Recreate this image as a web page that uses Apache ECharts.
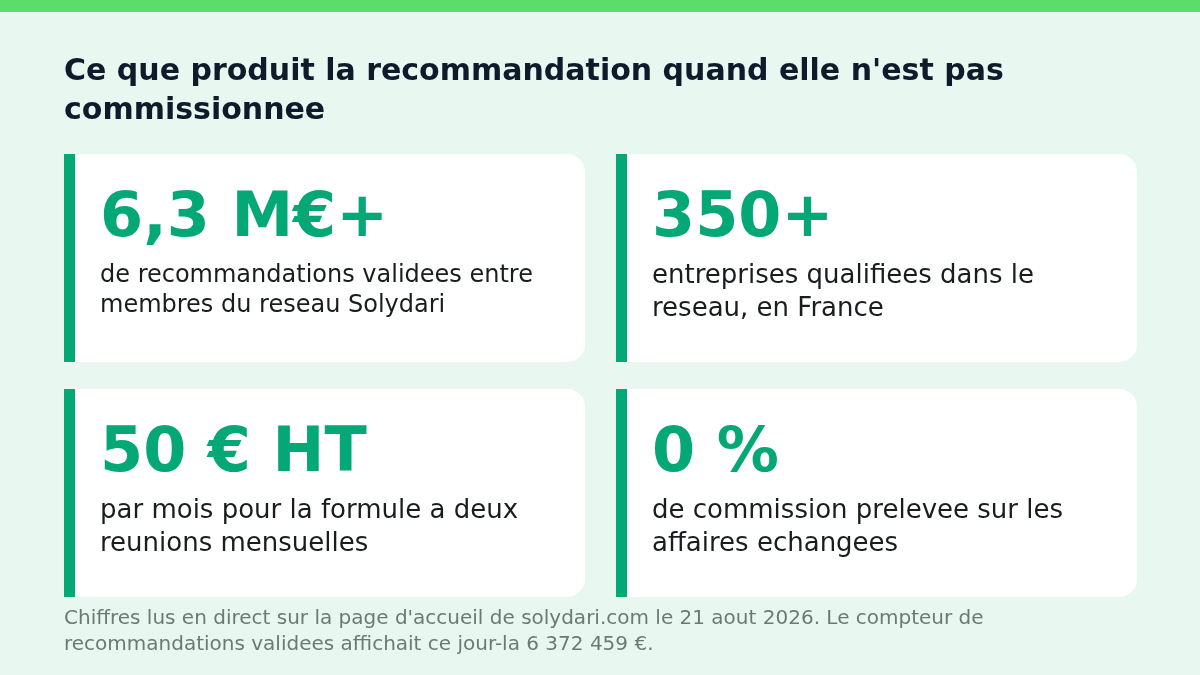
<!DOCTYPE html>
<html>
<head>
<meta charset="utf-8">
<title>Solydari - recommandation</title>
<script src="https://cdn.jsdelivr.net/npm/echarts@6/dist/echarts.min.js"></script>
<style>
    html, body { margin: 0; padding: 0; background: #E8F8F1; }
    #chart { width: 1200px; height: 675px; }
</style>
</head>
<body>
<div id="chart"></div>
<script>
var titleLines = ["Ce que produit la recommandation quand elle n'est pas", "commissionnee"]
var kpiValues = ["6,3 M€+", "350+", "50 € HT", "0 %"]
var kpiLabels = [
    ["de recommandations validees entre", "membres du reseau Solydari"],
    ["entreprises qualifiees dans le", "reseau, en France"],
    ["par mois pour la formule a deux", "reunions mensuelles"],
    ["de commission prelevee sur les", "affaires echangees"]
]
var noteLines = [
    "Chiffres lus en direct sur la page d'accueil de solydari.com le 21 aout 2026. Le compteur de",
    "recommandations validees affichait ce jour-la 6 372 459 €."
]

var FONT = "DejaVu Sans"
var green = "#04A877"

// shrink the label until its longest line fits the card
var measureCtx = document.createElement("canvas").getContext("2d")
function fitSize(lines, maxW, start) {
    var size = start
    while (size > 12) {
        measureCtx.font = size + "px '" + FONT + "'"
        var w = Math.max.apply(null, lines.map(function (l) { return measureCtx.measureText(l).width }))
        if (w <= maxW) break
        size--
    }
    return size
}

var chart = echarts.init(document.getElementById("chart"))

var cardW = 521, cardH = 208
var cardX = [64, 616], cardY = [154, 389]

var elements = [
    { type: "rect", shape: { x: 0, y: 0, width: 1200, height: 675 }, style: { fill: "#E8F8F1" } },
    { type: "rect", shape: { x: 0, y: 0, width: 1200, height: 12 }, style: { fill: "#5ADD6B" } },
    {
        type: "text", x: 64, y: 53,
        style: {
            text: titleLines.join("\n"), fill: "#0F1B2B",
            font: "bold 30px '" + FONT + "'", lineHeight: 39,
            verticalAlign: "top"
        }
    }
]

kpiValues.forEach(function (val, i) {
    var x = cardX[i % 2], y = cardY[Math.floor(i / 2)]
    var size = fitSize(kpiLabels[i], 449, 26)
    var lh = Math.round(size * 1.25)
    elements.push(
        { type: "rect", shape: { x: x, y: y, width: cardW, height: cardH, r: [0, 18, 18, 0] }, style: { fill: "#FFFFFF" } },
        { type: "rect", shape: { x: x, y: y, width: 11, height: cardH }, style: { fill: green } },
        {
            type: "text", x: x + 36, y: y + 66,
            style: { text: val, fill: green, font: "bold 62px '" + FONT + "'", verticalAlign: "middle" }
        },
        {
            type: "text", x: x + 36, y: y + 122 - lh / 2,
            style: {
                text: kpiLabels[i].join("\n"), fill: "#1A1D1F",
                font: size + "px '" + FONT + "'", lineHeight: lh, verticalAlign: "top"
            }
        }
    )
})

elements.push({
    type: "text", x: 64, y: 606,
    style: {
        text: noteLines.join("\n"), fill: "#6B7B74",
        font: "20px '" + FONT + "'", lineHeight: 26, verticalAlign: "top"
    }
})

chart.setOption({
    animation: false,
    graphic: { elements: elements }
})
</script>
</body>
</html>
